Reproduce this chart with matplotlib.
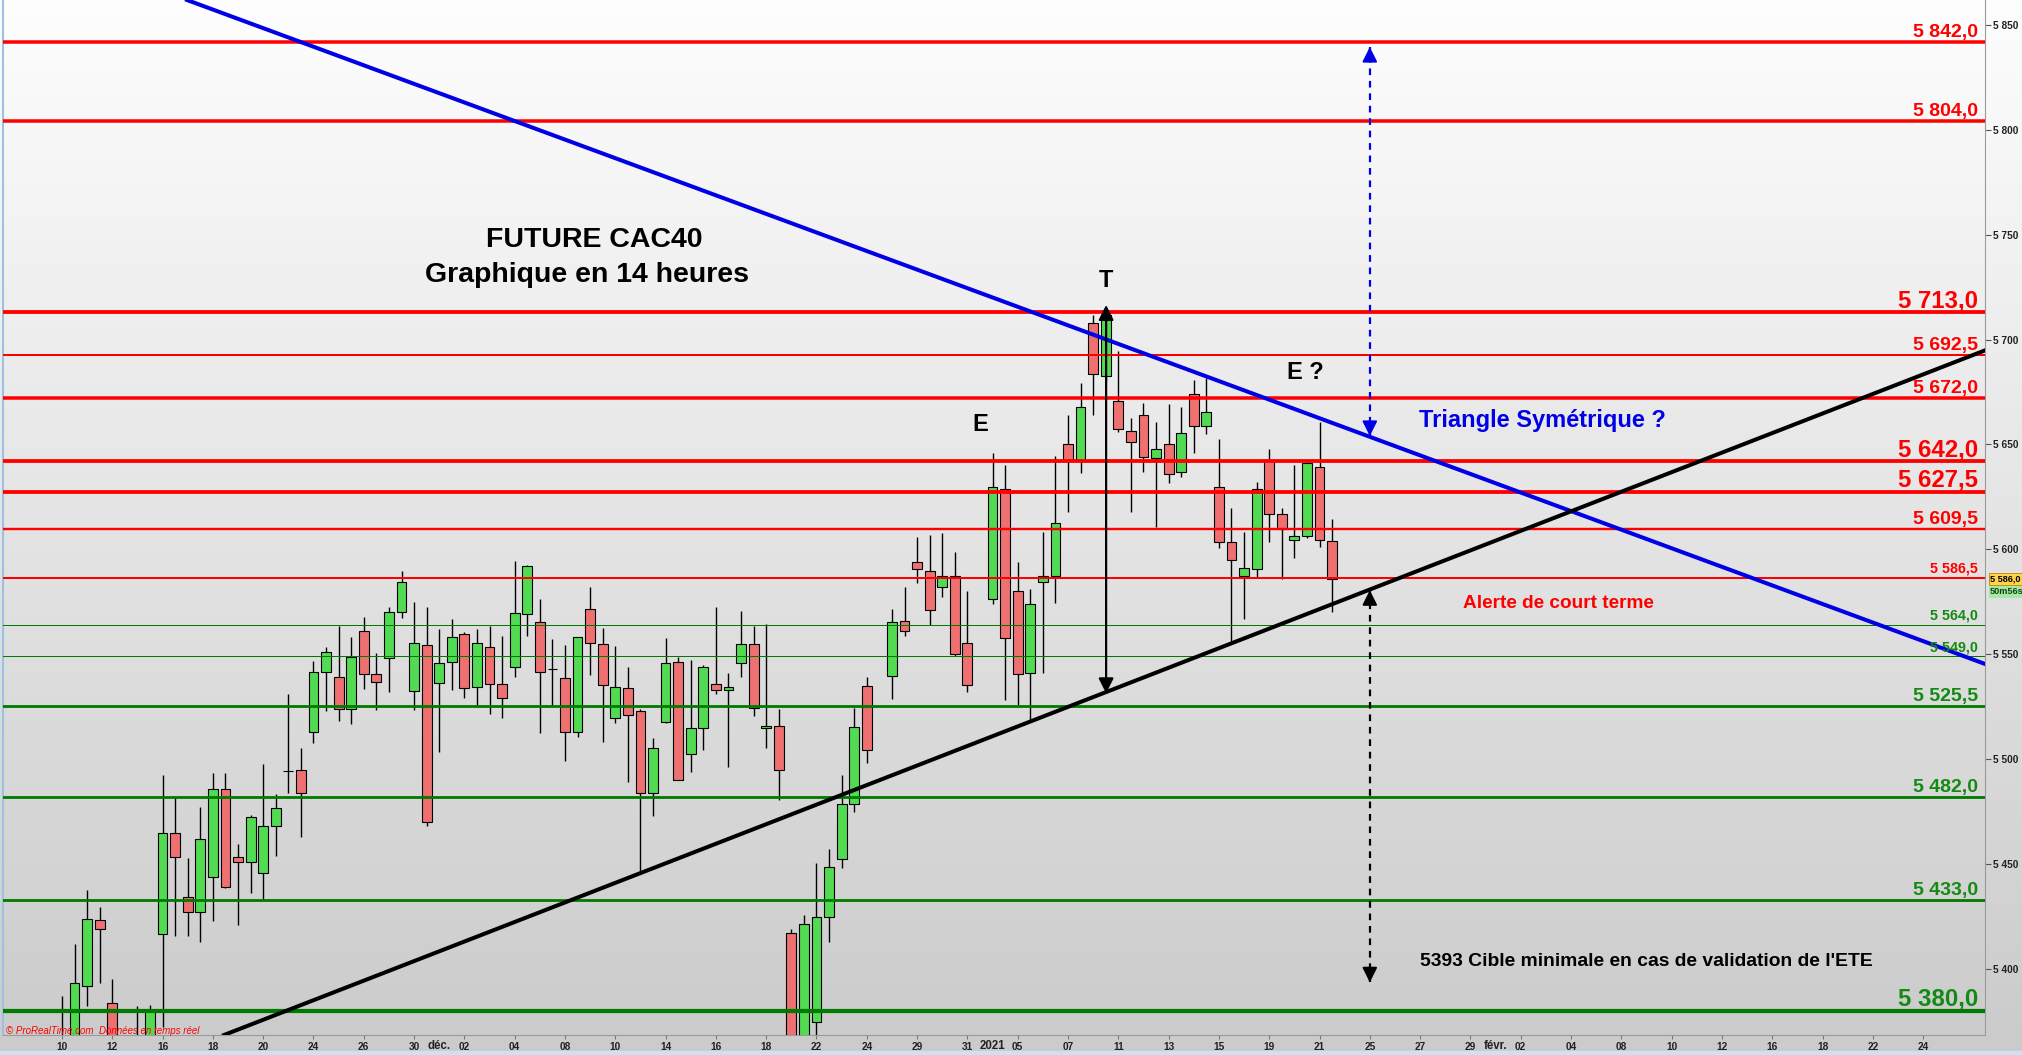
import numpy as np
import matplotlib.pyplot as plt

plt.rcParams['font.family'] = ['Liberation Sans', 'DejaVu Sans']

nan = np.nan

# bougies 14 h, indice de bougie 4 -> 105 (nan = pas de bougie)
bar_idx = np.arange(4, 106)
opens = [
    5340, 5350, 5391.7, 5423.2, 5383.5, nan, 5352, 5355, 5416.4, 5464.9,
    5434.3, 5426.9, 5443.9, 5485.5, 5453.1, 5451.0, 5445.5, 5468.2, 5494.3, 5494.8,
    5512.7, 5541.6, 5538.9, 5524.0, 5561.0, 5540.4, 5548.0, 5569.9, 5532.6, 5554.2,
    5536.1, 5546.1, 5559.4, 5534.2, 5553.3, 5535.6, 5543.7, 5569.0, 5565.2, 5543.1,
    5538.5, 5512.7, 5571.4, 5554.7, 5519.4, 5533.7, 5522.7, 5483.6, 5517.5, 5546.1,
    5502.2, 5514.6, 5535.6, 5532.9, 5545.6, 5554.7, 5514.6, 5515.9, 5416.9, 5365,
    5374.4, 5424.5, 5452.1, 5478.4, 5535.0, nan, 5539.7, 5565.8, 5593.8, 5589.8,
    5582.2, 5587.4, 5555.1, nan, 5576.1, 5628.9, 5580.3, 5540.9, 5584.2, 5587.3,
    5650.2, 5642.6, 5708.1, 5682.8, 5670.9, 5656.6, 5664.0, 5643.4, 5650.0, 5636.7,
    5673.9, 5658.8, 5629.5, 5603.3, 5587.3, 5590.4, 5642.6, 5616.7, 5604.4, 5606.3,
    5639.4, 5604.1]
highs = [
    5387, 5411.6, 5437.5, 5429.3, 5395, nan, 5382, 5382.7, 5492.4, 5481.2,
    5452.6, 5477.3, 5493.5, 5493.5, 5459.5, 5473.5, 5497.5, 5483.3, 5531.0, 5505.1,
    5546.7, 5553.3, 5563.4, 5558.3, 5567.6, 5550.4, 5572.3, 5589.6, 5575.0, 5572.3,
    5562.0, 5566.8, 5560.5, 5562.0, 5563.6, 5558.7, 5594.4, 5592.5, 5576.1, 5557.2,
    5554.4, 5558.3, 5581.9, 5562.3, 5553.9, 5544.0, 5523.8, 5509.9, 5557.5, 5548.5,
    5547.2, 5545.0, 5572.3, 5540.8, 5570.6, 5563.6, 5564.2, 5523.7, 5419.0, 5425.6,
    5450.2, 5456.9, 5492.4, 5524.2, 5538.9, nan, 5571.4, 5582.2, 5606.0, 5607.0,
    5607.6, 5598.6, 5580.1, nan, 5646.1, 5640.2, 5593.8, 5581.1, 5608.1, 5644.5,
    5664.0, 5679.1, 5711.7, 5713.5, 5694.6, 5662.4, 5669.9, 5660.5, 5669.1, 5668.0,
    5680.7, 5681.8, 5652.4, 5619.5, 5608.1, 5632.2, 5647.7, 5619.8, 5640.2, 5642.0,
    5660.9, 5614.3]
lows = [
    5330, 5340, 5382, 5393.3, 5345, nan, 5345, 5350, 5372.4, 5415.8,
    5415.8, 5412.9, 5422.9, 5438.5, 5420.8, 5435.9, 5432.8, 5453.7, 5483.9, 5463.0,
    5507.5, 5523.0, 5518.3, 5516.9, 5533.4, 5523.4, 5532.1, 5567.1, 5523.4, 5468.2,
    5503.5, 5532.9, 5529.2, 5525.4, 5521.3, 5519.4, 5538.9, 5558.8, 5512.2, 5525.4,
    5499.2, 5510.6, 5540.1, 5508.3, 5517.0, 5488.9, 5446.0, 5472.9, 5517.0, 5490.0,
    5494.0, 5504.3, 5530.8, 5496.4, 5539.3, 5520.6, 5505.1, 5480.4, 5350, 5355,
    5367.6, 5412.9, 5448.2, 5474.9, 5497.9, nan, 5528.6, 5558.8, 5583.8, 5563.9,
    5577.4, 5549.0, 5532.1, nan, 5574.0, 5528.1, 5525.8, 5517.8, 5540.8, 5574.2,
    5617.9, 5636.2, 5664.0, 5680.0, 5656.1, 5617.9, 5637.0, 5610.8, 5631.8, 5634.6,
    5646.1, 5655.0, 5600.4, 5555.9, 5566.6, 5587.0, 5603.3, 5585.7, 5595.7, 5605.2,
    5601.3, 5570.3]
closes = [
    5360, 5393.3, 5423.5, 5418.8, 5355, nan, 5362, 5379.8, 5464.9, 5453.1,
    5426.9, 5461.7, 5485.5, 5439.1, 5451.0, 5472.5, 5468.2, 5476.5, 5494.3, 5483.6,
    5541.6, 5550.9, 5524.0, 5548.5, 5540.4, 5536.6, 5569.9, 5584.2, 5555.2, 5469.8,
    5545.6, 5558.3, 5533.7, 5555.2, 5535.6, 5528.9, 5569.5, 5592.0, 5541.6, 5543.1,
    5512.7, 5558.0, 5555.2, 5535.1, 5534.2, 5520.8, 5483.6, 5505.1, 5545.6, 5490.0,
    5514.6, 5544.0, 5532.9, 5534.2, 5554.7, 5524.2, 5515.9, 5494.8, 5360, 5421.1,
    5424.8, 5448.7, 5478.4, 5515.4, 5504.3, nan, 5565.4, 5561.0, 5590.4, 5570.9,
    5587.3, 5549.9, 5535.3, nan, 5629.5, 5557.5, 5540.4, 5573.9, 5587.4, 5612.4,
    5642.6, 5667.7, 5683.4, 5711.7, 5657.4, 5651.3, 5643.9, 5647.7, 5635.9, 5655.3,
    5658.8, 5665.3, 5603.3, 5594.9, 5590.9, 5628.6, 5616.7, 5609.5, 5606.3, 5641.3,
    5604.4, 5585.7]

# niveaux horizontaux
levels = [5842.0, 5804.0, 5713.0, 5692.5, 5672.0, 5642.0, 5627.5, 5609.5,
          5586.5, 5564.0, 5549.0, 5525.5, 5482.0, 5433.0, 5380.0]
level_px = [3.5, 3.5, 3.8, 2.0, 3.5, 3.8, 3.8, 2.4, 2.0, 1.0, 1.0, 2.8, 2.8, 2.8, 4.2]
level_fs = [14, 14, 17.3, 14, 14, 17.3, 17.3, 14, 10.3, 10.3, 10.3, 14, 14, 14, 17.3]

# droites de tendance (deux points chacune)
blue_x, blue_y = [13.94, 156.7], [5861.9, 5545.8]
black_x, black_y = [16.5, 156.9], [5367.5, 5694.8]

day_ticks = list(range(4, 153, 4))
day_labels = ['10', '12', '16', '18', '20', '24', '26', '30',
              '02', '04', '08', '10', '14', '16', '18', '22', '24', '29', '31',
              '05', '07', '11', '13', '15', '19', '21', '25', '27', '29',
              '02', '04', '08', '10', '12', '16', '18', '22', '24']
month_ticks = [34, 78, 118]
month_labels = ['déc.', '2021', 'févr.']
price_ticks = list(range(5400, 5851, 50))
last_price = 5586.0


def fr(v, dec=1):
    s = f"{v:,.{dec}f}"
    return s.replace(',', ' ').replace('.', ',')


W, H = 2022, 1055
fig = plt.figure(figsize=(W / 100, H / 100), dpi=100)

bg = fig.add_axes([0, 0, 1, 1], zorder=-2)
g = np.linspace(0.995, 0.795, 400)
bg.imshow(g[:, None, None] * np.ones((1, 1, 3)), aspect='auto', extent=[0, 1, 0, 1])
bg.axis('off')
bg.plot([3 / W, 3 / W], [20 / H, 1], color='#9cc0e6', lw=1.5, transform=bg.transAxes)
bg.add_patch(plt.Rectangle((0, 0), 1, 4 / H, color='#cfe0f2', transform=bg.transAxes))

ax = fig.add_axes([3 / W, 20 / H, 1982 / W, 1035 / H])
ax.set_facecolor('none')
ax.set_xlim(-0.69, 156.92)
ax.set_ylim(5368.4, 5861.9)

o = np.array(opens); h = np.array(highs); l = np.array(lows); c = np.array(closes)
ok = ~np.isnan(o)
x = bar_idx[ok]; o, h, l, c = o[ok], h[ok], l[ok], c[ok]
up = c >= o
ax.vlines(x, l, h, color='black', lw=1.0, zorder=2)
ax.bar(x[up], (c - o)[up], bottom=o[up], width=0.78, color='#52da52',
       edgecolor='black', lw=0.8, zorder=3)
ax.bar(x[~up], (c - o)[~up], bottom=o[~up], width=0.78, color='#ee7070',
       edgecolor='black', lw=0.8, zorder=3)

for v, px, fs in zip(levels, level_px, level_fs):
    col = '#ff0000' if v >= 5586 else '#007a00'
    tcol = '#ff0000' if v >= 5586 else '#138a13'
    ax.axhline(v, color=col, lw=px * 0.72, zorder=4)
    ax.annotate(fr(v), xy=(1, v), xycoords=('axes fraction', 'data'),
                xytext=(-7, 5), textcoords='offset pixels', ha='right', va='baseline',
                fontsize=fs, weight='bold', color=tcol, zorder=6)

ax.axline((blue_x[0], blue_y[0]), (blue_x[1], blue_y[1]), color='#0000e6', lw=2.9, zorder=5)
ax.axline((black_x[0], black_y[0]), (black_x[1], black_y[1]), color='black', lw=2.9, zorder=5)

# fleche de la tete
ax.annotate('', xy=(87.03, 5716.5), xytext=(87.03, 5531.3),
            arrowprops=dict(arrowstyle='<|-|>,head_width=0.3,head_length=0.6', color='black',
                            lw=1.6, mutation_scale=15, shrinkA=0, shrinkB=0), zorder=6)


def dashed_arrow(xa, y1, y2, col):
    ax.plot([xa, xa], [y1, y2], color=col, lw=1.6, ls=(0, (3, 2.6)), zorder=6)
    step = 6 if y2 > y1 else -6
    for ya, yb in ((y1, y1 + step), (y2, y2 - step)):
        ax.annotate('', xy=(xa, ya), xytext=(xa, yb),
                    arrowprops=dict(arrowstyle='-|>,head_width=0.3,head_length=0.6', color=col,
                                    lw=1.4, mutation_scale=15, shrinkA=0, shrinkB=0), zorder=6)


dashed_arrow(108.0, 5654.0, 5839.5, '#0000e6')
dashed_arrow(108.0, 5580.5, 5393.5, 'black')

ax.text(46.3, 5744.0, 'FUTURE CAC40', ha='center', va='baseline', fontsize=20.5,
        weight='bold', zorder=7)
ax.text(45.75, 5727.3, 'Graphique en 14 heures', ha='center', va='baseline', fontsize=20.5,
        weight='bold', zorder=7)
ax.text(87.03, 5725.1, 'T', ha='center', va='baseline', fontsize=17, weight='bold', zorder=7)
ax.text(77.0, 5656.2, 'E', ha='center', va='baseline', fontsize=17, weight='bold', zorder=7)
ax.text(102.9, 5681.2, 'E ?', ha='center', va='baseline', fontsize=17, weight='bold', zorder=7)
ax.text(121.7, 5658.1, 'Triangle Symétrique ?', ha='center', va='baseline', fontsize=17,
        weight='bold', color='#0000e6', zorder=7)
ax.text(123.0, 5572.0, 'Alerte de court terme', ha='center', va='baseline', fontsize=13.7,
        weight='bold', color='#ff0000', zorder=7)
ax.text(130.0, 5401.3, "5393 Cible minimale en cas de validation de l'ETE", ha='center',
        va='baseline', fontsize=13.9, weight='bold', color='black', zorder=7)

# axes
for s in ('top', 'left'):
    ax.spines[s].set_visible(False)
ax.spines['right'].set_color('#9a9a9a')
ax.spines['bottom'].set_color('#9a9a9a')
ax.yaxis.tick_right()
ax.set_yticks(price_ticks)
ax.set_yticklabels([fr(p, 0) for p in price_ticks])
ax.tick_params(axis='y', length=4, width=0.8, color='#555555', pad=2, labelsize=7.3,
               labelcolor='#222222')
for t in ax.get_yticklabels():
    t.set_fontweight('bold')
ax.set_xticks(day_ticks)
ax.set_xticklabels(day_labels)
ax.tick_params(axis='x', length=3, width=0.8, color='#777777', pad=2, labelsize=7.3,
               labelcolor='#222222')
for t in ax.get_xticklabels():
    t.set_fontweight('bold')
for xm, lab in zip(month_ticks, month_labels):
    ax.text(xm, -0.0106, lab, transform=ax.get_xaxis_transform(), ha='center', va='center',
            fontsize=8.3, weight='bold', color='#222222')

ax.annotate(fr(last_price), xy=(1, last_price), xycoords=('axes fraction', 'data'),
            xytext=(5, 0), textcoords='offset pixels', ha='left', va='center', fontsize=6.6,
            weight='bold', annotation_clip=False,
            bbox=dict(boxstyle='square,pad=0.15', fc='#ffd24a', ec='#b88a00', lw=0.6))
ax.annotate('50m56s', xy=(1, last_price), xycoords=('axes fraction', 'data'),
            xytext=(5, -13), textcoords='offset pixels', ha='left', va='center', fontsize=6.6,
            weight='bold', color='#114411', annotation_clip=False,
            bbox=dict(boxstyle='square,pad=0.15', fc='#a6e8a6', ec='none'))

fig.text(6 / W, 21 / H, '© ProRealTime.com  Données en temps réel', fontsize=7,
         style='italic', color='#ff0000', ha='left', va='baseline')

fig.savefig('out.png', dpi=100)
